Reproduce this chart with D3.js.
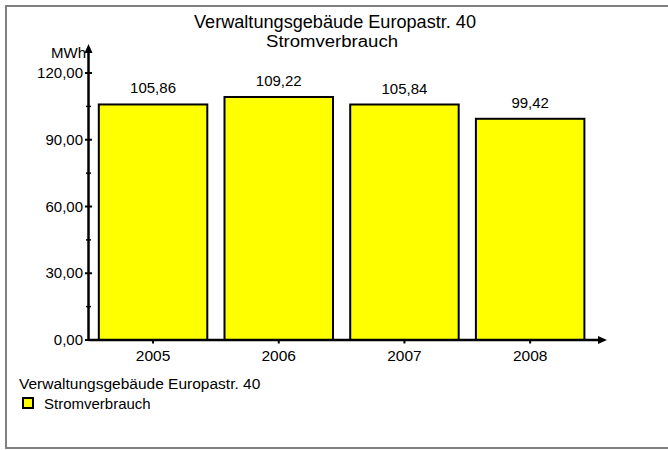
<!DOCTYPE html>
<html><head><meta charset="utf-8">
<script src="https://cdn.jsdelivr.net/npm/d3@7"></script>
<style>body{margin:0;background:#fff}svg{display:block}text{font-family:"Liberation Sans",Arial,sans-serif;fill:#000}</style>
</head><body>
<svg id="c" width="668" height="450"></svg>
<script>
const categories = ["2005","2006","2007","2008"];
const values = [105.86, 109.22, 105.84, 99.42];
const valueLabels = ["105,86","109,22","105,84","99,42"];
const yTicks = [0, 30, 60, 90, 120];
const yTickLabels = ["0,00","30,00","60,00","90,00","120,00"];
const yMinorTicks = [15, 45, 75, 105];
const title = "Verwaltungsgebäude Europastr. 40";
const subtitle = "Stromverbrauch";
const unit = "MWh";
const seriesName = "Stromverbrauch";

const svg = d3.select("#c");
svg.append("rect").attr("x",6).attr("y",6).attr("width",670).attr("height",442)
  .attr("fill","#fff").attr("stroke","#808080").attr("stroke-width",2);

const x = d3.scaleBand().domain(categories).range([90.2, 593]).paddingInner(0.137).paddingOuter(0.0685);
const y = d3.scaleLinear().domain([0,120]).range([340,73]);

svg.append("text").attr("x",335).attr("y",28).attr("text-anchor","middle").attr("font-size",17.5).attr("textLength",282).attr("lengthAdjust","spacingAndGlyphs").text(title);
svg.append("text").attr("x",332).attr("y",46.5).attr("text-anchor","middle").attr("font-size",16).attr("textLength",132).attr("lengthAdjust","spacingAndGlyphs").text(subtitle);

// bars
svg.selectAll("rect.bar").data(values).join("rect").attr("class","bar")
  .attr("x",(d,i)=>x(categories[i])).attr("width",x.bandwidth())
  .attr("y",d=>y(d)).attr("height",d=>y(0)-y(d))
  .attr("fill","#ffff00").attr("stroke","#000").attr("stroke-width",2);

svg.selectAll("text.val").data(values).join("text").attr("class","val")
  .attr("x",(d,i)=>x(categories[i])+x.bandwidth()/2).attr("y",d=>y(d)-11)
  .attr("text-anchor","middle").attr("font-size",15).text((d,i)=>valueLabels[i]);

// y axis
const ax = 88.5;
svg.append("line").attr("x1",ax).attr("x2",ax).attr("y1",y(0)).attr("y2",50).attr("stroke","#000").attr("stroke-width",2.5);
svg.append("path").attr("d",`M${ax-4},${53} L${ax},${44} L${ax+4},${53} Z`).attr("fill","#000");
svg.selectAll("line.ymaj").data(yTicks).join("line").attr("class","ymaj")
  .attr("x1",ax-3.5).attr("x2",ax+3.5).attr("y1",d=>y(d)).attr("y2",d=>y(d)).attr("stroke","#000").attr("stroke-width",2);
svg.selectAll("line.ymin").data(yMinorTicks).join("line").attr("class","ymin")
  .attr("x1",ax-2.5).attr("x2",ax+2.5).attr("y1",d=>y(d)).attr("y2",d=>y(d)).attr("stroke","#000").attr("stroke-width",1.5);
svg.selectAll("text.yl").data(yTicks).join("text").attr("class","yl")
  .attr("x",83).attr("y",d=>y(d)+5).attr("text-anchor","end").attr("font-size",15).text((d,i)=>yTickLabels[i]);
svg.append("text").attr("x",86).attr("y",58).attr("text-anchor","end").attr("font-size",15).text(unit);

// x axis
svg.append("line").attr("x1",ax).attr("x2",600).attr("y1",340).attr("y2",340).attr("stroke","#000").attr("stroke-width",2.5);
svg.append("path").attr("d",`M598,336 L607,340 L598,344 Z`).attr("fill","#000");
svg.selectAll("line.xt").data(categories).join("line").attr("class","xt")
  .attr("x1",d=>x(d)+x.bandwidth()/2).attr("x2",d=>x(d)+x.bandwidth()/2).attr("y1",340).attr("y2",343.5).attr("stroke","#000").attr("stroke-width",2);
svg.selectAll("text.xl").data(categories).join("text").attr("class","xl")
  .attr("x",d=>x(d)+x.bandwidth()/2).attr("y",361).attr("text-anchor","middle").attr("font-size",15.5).text(d=>d);

// legend
svg.append("text").attr("x",19).attr("y",389).attr("font-size",15.5).text(title);
svg.append("rect").attr("x",23).attr("y",398).attr("width",10).attr("height",10).attr("fill","#ffff00").attr("stroke","#000").attr("stroke-width",2);
svg.append("text").attr("x",44).attr("y",408.5).attr("font-size",15).text(seriesName);
</script>
</body></html>
